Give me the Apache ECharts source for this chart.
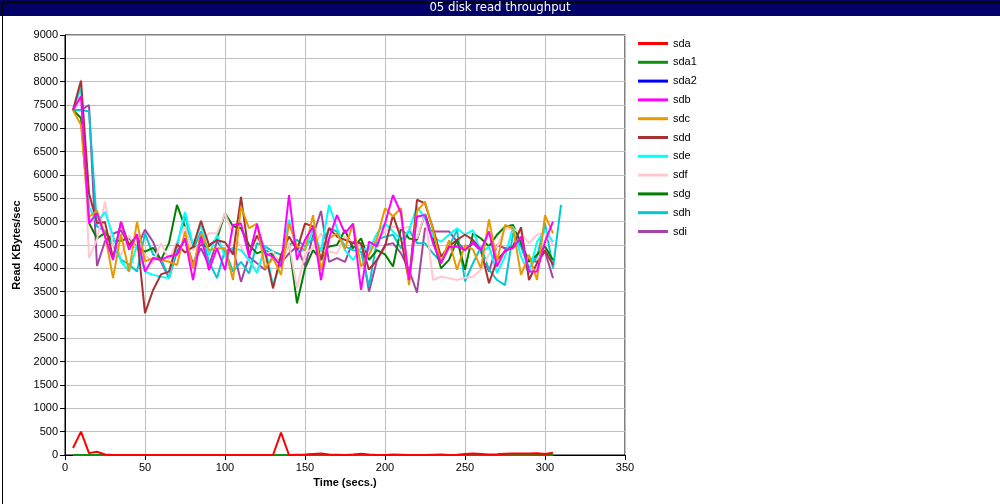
<!DOCTYPE html>
<html>
<head>
<meta charset="utf-8">
<script src="https://cdn.jsdelivr.net/npm/echarts@6/dist/echarts.min.js"></script>
<style>
html,body{margin:0;padding:0;background:#fff;}
#chart{width:1000px;height:504px;}
</style>
</head>
<body>
<div id="chart"></div>
<script>
// Time samples (secs.)
var times = [5,10,15,20,25,30,35,40,45,50,55,60,65,70,75,80,85,90,95,100,105,110,115,120,125,130,135,140,145,150,155,160,165,170,175,180,185,190,195,200,205,210,215,220,225,230,235,240,245,250,255,260,265,270,275,280,285,290,295,300,305];
var timesH = times.concat([310]);

var seriesNames = ['sda','sda1','sda2','sdb','sdc','sdd','sde','sdf','sdg','sdh','sdi'];
var seriesColors = ['#ff0000','#109010','#0000ff','#ff00ff','#e69a00','#a83232','#00ffff','#ffc8cf','#007f00','#00c8d0','#a444a4'];

var sda  = [150,500,40,70,10,0,0,0,0,0, 0,0,0,0,0,0,0,0,0,0, 0,0,0,0,0,0,480,0,5,10, 20,30,10,5,0,10,25,10,0,0, 10,5,0,0,0,5,10,0,5,20, 30,20,10,15,25,30,30,30,40,20, 50];
var sda1 = [0,0,0,0,0,0,0,0,0,0, 0,0,0,0,0,0,0,0,0,0, 0,0,0,0,0,0,0,0,0,0, 0,0,0,0,0,0,0,0,0,0, 0,0,0,0,0,0,0,0,0,0, 0,0,0,0,0,0,0,0,0,0, 0];
var sda2 = [0,0,0,0,0,0,0,0,0,0, 0,0,0,0,0,0,0,0,0,0, 0,0,0,0,0,0,0,0,0,0, 0,0,0,0,0,0,0,0,0,0, 0,0,0,0,0,0,0,0,0,0, 0,0,0,0,0,0,0,0,0,0, 0];
var sdb  = [7390,7690,4970,5180,4680,4180,5000,4400,4730,3930, 4220,4180,4260,4290,4640,3750,4680,3960,4430,3960, 4930,4960,4250,4950,4320,4250,4040,5570,4180,4610, 4890,3750,4640,5140,4750,4960,3540,4570,4470,4960, 5570,5180,3750,5110,5140,4540,4110,4450,4470,4390, 4570,4390,4790,4040,4390,4430,4680,3930,3930,4570, 5000];
var sdc  = [7390,7070,5100,5240,4730,3790,4730,3930,5000,4150, 4220,4180,4140,4070,4790,4000,4750,4390,4430,4430, 3750,5320,4860,4960,4000,4220,3860,4960,4470,4390, 5140,3960,4640,4750,4420,4960,4040,4290,4640,5290, 5110,5290,3640,5220,5430,4820,4110,4600,3970,4500, 4400,4000,5050,4140,4930,4860,3860,4290,3750,5140, 4750];
var sdd  = [7390,8020,5610,4970,4990,4220,4990,4500,4700,3040, 3530,3870,3930,4520,4340,4460,5020,4500,4600,4560, 4300,5530,4290,4700,4360,3570,4290,4680,4390,4960, 4900,4180,4860,4680,4610,4540,4540,3970,4180,4470, 5140,4640,3720,5470,5390,4860,4250,4470,4610,4720, 4610,4390,3680,4180,4360,4470,4880,3750,4110,4390, 4070];
var sde  = [7390,7860,5320,4970,5210,4700,4150,3930,4500,3930, 3860,3820,3790,4500,5210,4500,4930,4290,4710,4250, 4430,4390,4180,3900,4460,3640,4110,5040,4390,4390, 4820,4360,5360,4860,4390,4180,4430,4390,4750,4960, 4790,4610,4820,5320,5070,4680,4570,4720,4860,4720, 4820,4320,4470,3900,4250,4890,4250,3890,4570,4820, 4570];
var sdf  = [7390,8040,4220,4620,5430,4500,4280,4700,4400,4300, 4110,4540,4180,4570,4890,4390,4540,4750,4750,5180, 4720,4470,4140,3970,4320,4360,4040,4540,3570,4320, 4430,4750,4360,4320,4680,4540,4390,4430,4610,4790, 4890,4860,4890,4640,5180,3750,3820,3790,3750,3800, 3820,3970,4300,4460,4860,4850,4750,4540,4720,4750, 4500];
var sdg  = [7390,7220,4970,4640,4760,4590,4590,4650,4450,4360, 4440,4180,4540,5360,4890,4430,4500,4470,4640,5180, 4900,4860,4500,4320,4390,4290,4110,4540,3250,4000, 4390,4180,4470,4500,4820,4430,4640,4180,4390,4300, 4040,4860,4640,4610,5180,4640,4000,4180,4610,3970, 4750,4640,4470,4720,4890,4930,4540,4140,4290,4470, 4180];
var sdh  = [7390,7400,7360,4900,4800,4500,4190,4080,3930,4750, 4300,4200,3800,4470,5140,4390,4790,4140,3790,4390, 3930,4140,3890,4540,4470,4360,4290,4500,4610,4470, 4640,4390,4860,4790,4470,4390,4360,3610,4610,4680, 4720,4430,4820,4540,4540,4320,4140,4470,4820,3720, 4110,4460,3970,3750,3640,4750,4470,4000,4250,4960, 4000,5360];
var sdi  = [7390,7390,7500,4050,4580,4740,4810,4510,4450,4830, 4570,4140,3790,4360,4610,4110,4430,4070,4570,4360, 4430,3710,4250,4110,3970,4250,4110,4320,4470,4040, 4700,5230,4140,4220,4140,4570,4540,3500,4180,4500, 4540,4320,3970,3480,4860,4790,4790,4790,4570,4390, 4540,4360,3930,4500,4430,4470,4500,4180,4140,4360, 3790];

var xTicks = [0,50,100,150,200,250,300,350];
var yTicks = [0,500,1000,1500,2000,2500,3000,3500,4000,4500,5000,5500,6000,6500,7000,7500,8000,8500,9000];

var valueSets = {sda:sda,sda1:sda1,sda2:sda2,sdb:sdb,sdc:sdc,sdd:sdd,sde:sde,sdf:sdf,sdg:sdg,sdh:sdh,sdi:sdi};

function pairs(tArr, vArr){
  var out = [];
  for (var i=0;i<vArr.length;i++) out.push([tArr[i], vArr[i]]);
  return out;
}

var series = [];
for (var k = seriesNames.length-1; k >= 0; k--) {
  var nm = seriesNames[k];
  var tArr = nm === 'sdh' ? timesH : times;
  series.push({
    name: nm,
    type: 'line',
    data: pairs(tArr, valueSets[nm]),
    showSymbol: false,
    symbol: 'none',
    lineStyle: {width: 2, color: seriesColors[k]},
    itemStyle: {color: seriesColors[k]},
    emphasis: {disabled: true},
    z: 2
  });
}

var font = "'Liberation Sans', Arial, sans-serif";
var chart = echarts.init(document.getElementById('chart'), null, {renderer: 'canvas'});
chart.setOption({
  animation: false,
  backgroundColor: '#ffffff',
  color: seriesColors,
  grid: {left: 65, top: 35, width: 560, height: 420, show: true, borderColor: '#000', borderWidth: 1, backgroundColor: 'transparent'},
  graphic: [
    {type: 'rect', left: 0, top: 0, shape: {x: 0.5, y: 0.5, width: 999, height: 503}, style: {fill: 'none', stroke: '#000', lineWidth: 1}, z: 10},
    {type: 'rect', left: 0, top: 0, shape: {x: 0, y: 0, width: 1000, height: 16}, style: {fill: '#000066'}, z: 9},
    {type: 'text', left: 'center', top: 1, style: {text: '05 disk read throughput', fill: '#ffffff', font: "13px 'Liberation Sans Narrow', 'DejaVu Sans Condensed', sans-serif"}, z: 11}
  ],
  legend: {
    orient: 'vertical',
    left: 633,
    top: 32,
    data: seriesNames,
    icon: 'rect',
    itemWidth: 30,
    itemHeight: 3,
    itemGap: 5.8,
    selectedMode: false,
    textStyle: {fontFamily: font, fontSize: 11, color: '#000', lineHeight: 13}
  },
  xAxis: {
    type: 'value', min: 0, max: 350, interval: 50,
    name: 'Time (secs.)', nameLocation: 'middle', nameGap: 22,
    nameTextStyle: {fontFamily: font, fontSize: 11, fontWeight: 'bold', color: '#000'},
    axisLine: {show: true, lineStyle: {color: '#000', width: 1}},
    axisTick: {show: true, length: 5, lineStyle: {color: '#000'}},
    axisLabel: {fontFamily: font, fontSize: 11, color: '#000', margin: 7,
      formatter: function(v){ return xTicks.indexOf(v) >= 0 ? String(v) : ''; }},
    splitLine: {show: true, lineStyle: {color: '#c0c0c0', width: 1}}
  },
  yAxis: {
    type: 'value', min: 0, max: 9000, interval: 500,
    name: 'Read KBytes/sec', nameLocation: 'middle', nameGap: 36, nameRotate: 90,
    nameTextStyle: {fontFamily: font, fontSize: 11, fontWeight: 'bold', color: '#000'},
    axisLine: {show: true, lineStyle: {color: '#000', width: 1}},
    axisTick: {show: true, length: 5, lineStyle: {color: '#000'}},
    axisLabel: {fontFamily: font, fontSize: 11, color: '#000', margin: 7,
      formatter: function(v){ return yTicks.indexOf(v) >= 0 ? String(v) : ''; }},
    splitLine: {show: true, lineStyle: {color: '#c0c0c0', width: 1}}
  },
  series: series
});
</script>
</body>
</html>
